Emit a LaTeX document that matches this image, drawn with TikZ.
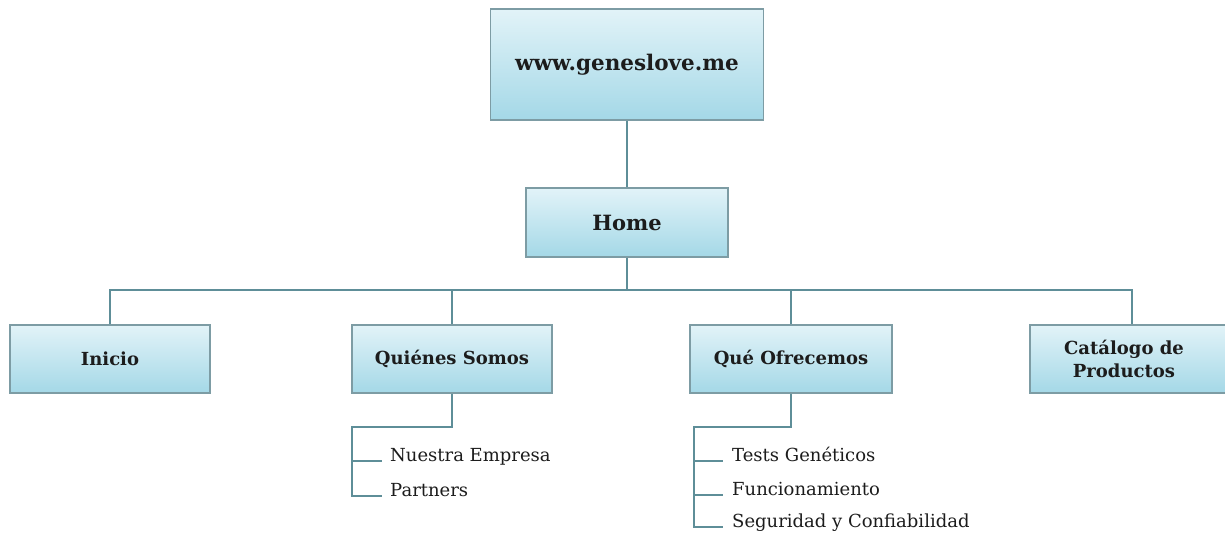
\documentclass[tikz,border=0pt]{standalone}
\usepackage{fontspec}
\setmainfont{DejaVu Serif}
\definecolor{boxtop}{HTML}{E2F3F8}
\definecolor{boxbot}{HTML}{A4D8E7}
\definecolor{boxedge}{HTML}{7D9CA4}
\definecolor{linkcol}{HTML}{5E8E98}
\definecolor{ink}{HTML}{1C1C1C}
\tikzset{
  pagebox/.style={draw=boxedge, line width=1.3pt, top color=boxtop, bottom color=boxbot,
    inner sep=0pt, text=ink, align=center, font=\bfseries\fontsize{18}{23}\selectfont},
  link/.style={draw=linkcol, line width=1.3pt},
  subitem/.style={anchor=base west, inner sep=0pt, text=ink, font=\fontsize{18}{22}\selectfont}
}
\begin{document}
\begin{tikzpicture}[x=1pt, y=-1pt]
\useasboundingbox (0,0) rectangle (1225,535);

% top of the site map
\node[pagebox, minimum width=273pt, minimum height=111pt,
      font=\bfseries\fontsize{21.5}{26}\selectfont] (site) at (627,64.5) {www.geneslove.me};
\node[pagebox, minimum width=202pt, minimum height=69pt,
      font=\bfseries\fontsize{21}{25}\selectfont] (home) at (627,222.5) {Home};

% main sections
\node[pagebox, minimum width=200pt, minimum height=68pt] (inicio) at (110,359) {Inicio};
\node[pagebox, minimum width=200pt, minimum height=68pt] (qs) at (452,359) {Quiénes Somos};
\node[pagebox, minimum width=202pt, minimum height=68pt] (qo) at (791,359) {Qué Ofrecemos};
\node[pagebox, minimum width=204pt, minimum height=68pt] (cat) at (1132,359) {\hspace*{-16pt}Catálogo de\\\hspace*{-16pt}Productos};

% tree connectors
\coordinate (bus) at (627,290);
\draw[link] (site.south) -- (home.north);
\draw[link] (home.south) -- (bus);
\draw[link] (inicio.north) |- (bus) -| (cat.north);
\draw[link] (qs.north) -- (qs.north |- bus);
\draw[link] (qo.north) -- (qo.north |- bus);

% Quiénes Somos sub-pages
\node[subitem] (ne) at (390,461) {Nuestra Empresa};
\node[subitem] (pa) at (390,496) {Partners};
\coordinate (qsk) at (352,427);
\coordinate (qs1) at (382,461);
\coordinate (qs2) at (382,496);
\draw[link] (qs.south) |- (qsk) |- (qs2);
\draw[link] (qsk |- qs1) -- (qs1);

% Qué Ofrecemos sub-pages
\node[subitem] (tg) at (732,461) {Tests Genéticos};
\node[subitem] (fu) at (732,495) {Funcionamiento};
\node[subitem] (sc) at (732,527) {Seguridad y Confiabilidad};
\coordinate (qok) at (694,427);
\coordinate (qo1) at (723,461);
\coordinate (qo2) at (723,495);
\coordinate (qo3) at (723,527);
\draw[link] (qo.south) |- (qok) |- (qo3);
\draw[link] (qok |- qo1) -- (qo1);
\draw[link] (qok |- qo2) -- (qo2);
\end{tikzpicture}
\end{document}
